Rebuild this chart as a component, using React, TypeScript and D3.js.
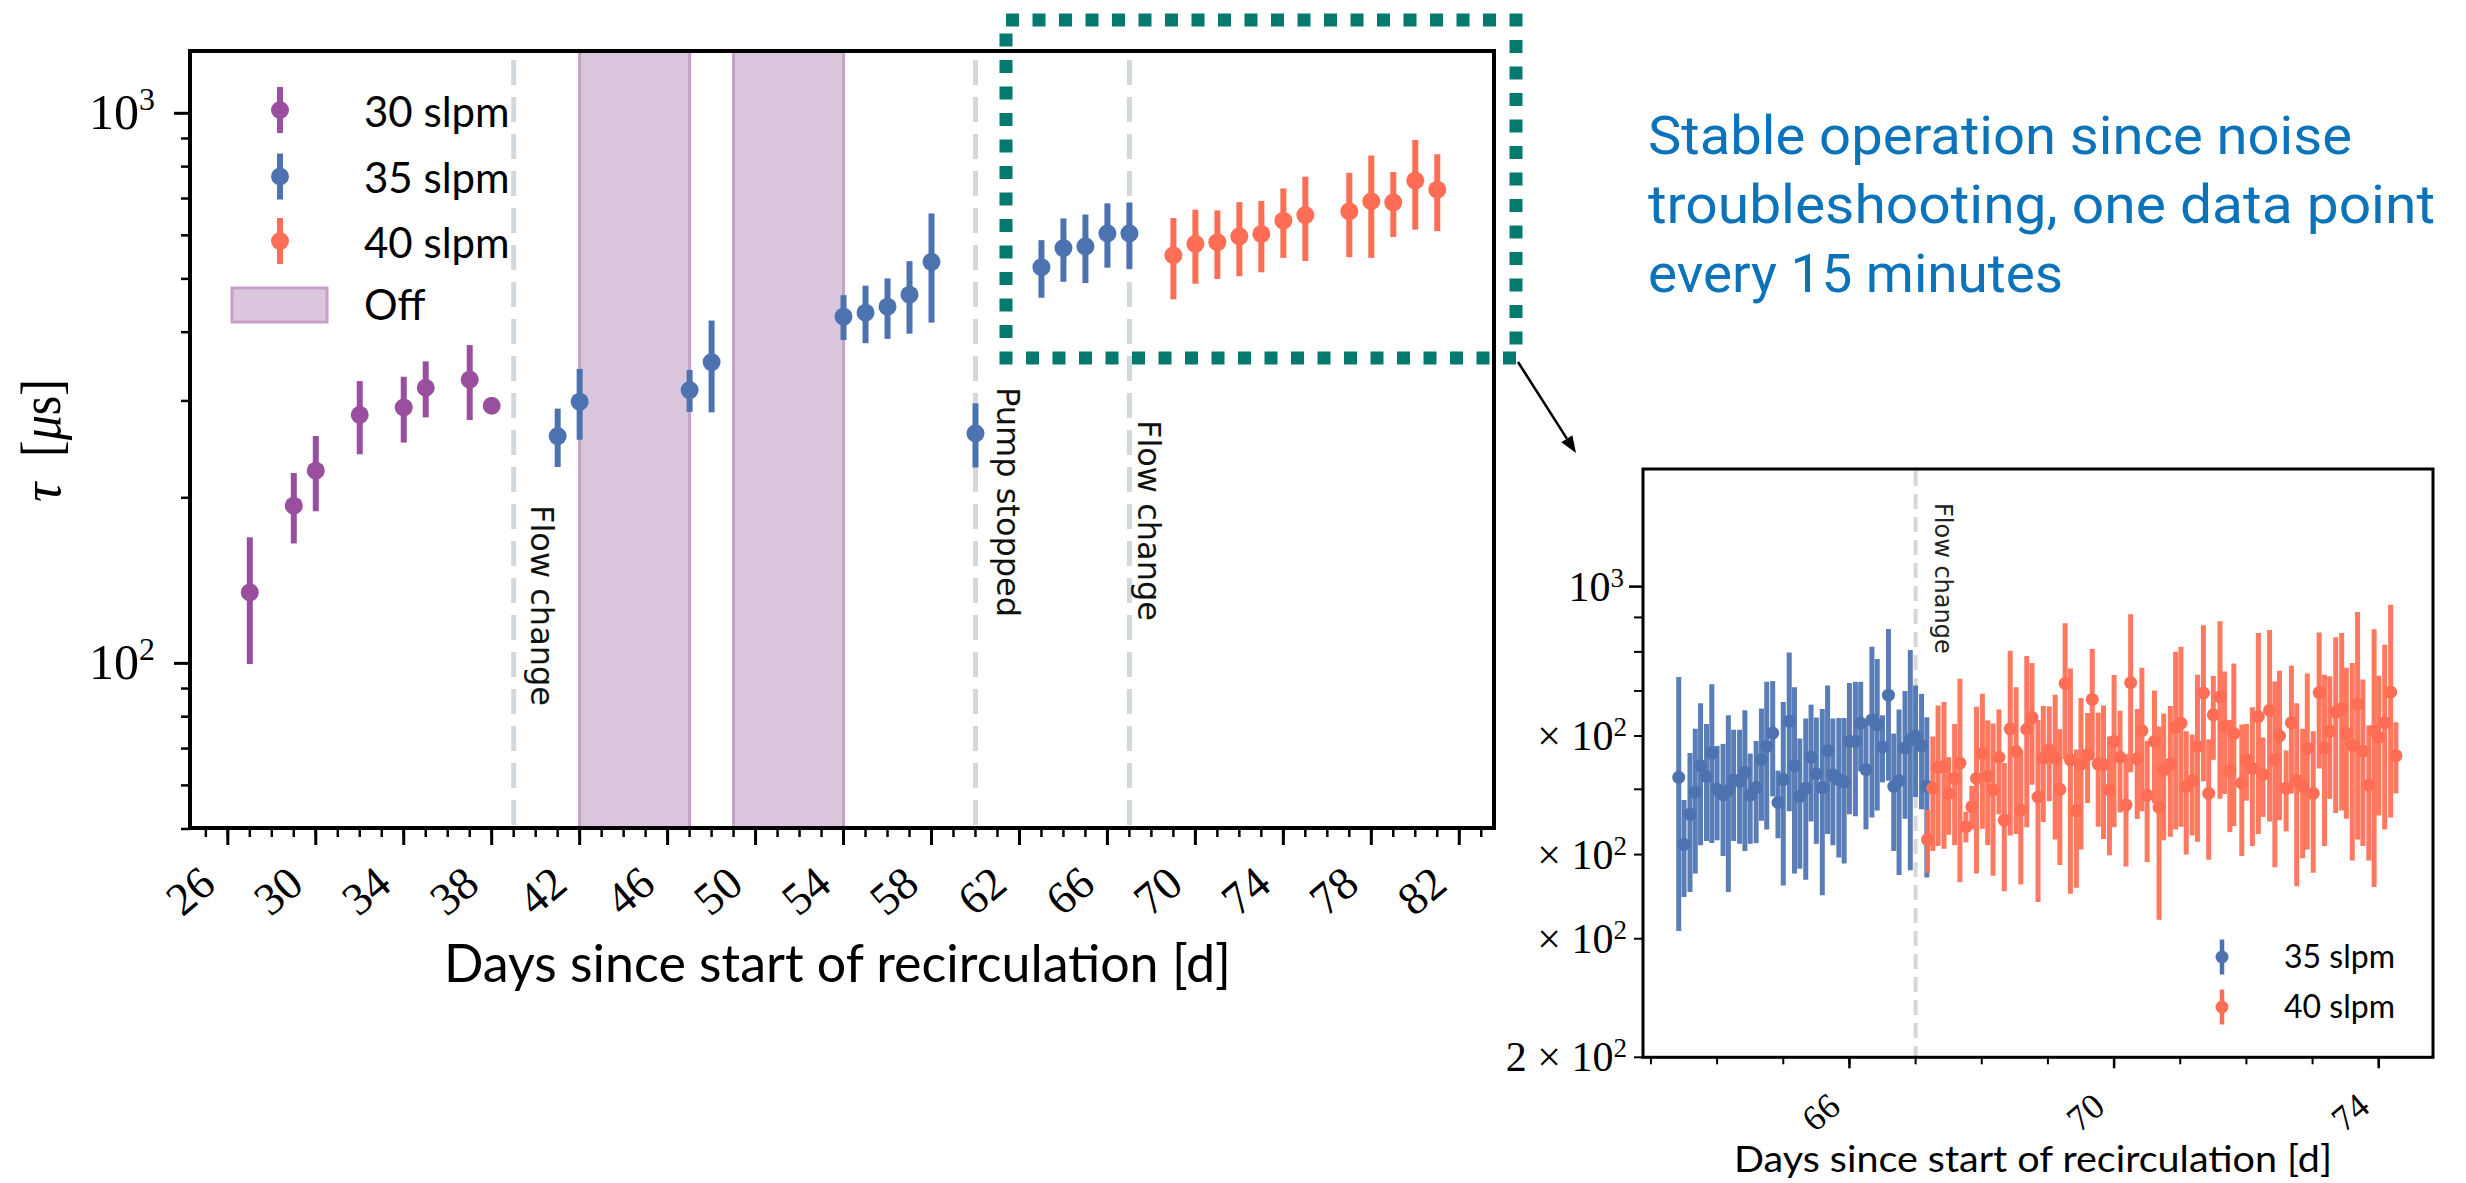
import React from "react";
import * as d3 from "d3";

// ---- main panel: tau vs days, one point per run ----
const days30 = [27, 29, 30, 32, 34, 35, 37, 38];
const tau30 = [134.6, 193.5, 224, 283, 292, 317, 328, 294];
const err30 = [34.9, 28.3, 35, 43, 40, 37, 51, 4];

const days35 = [41, 42, 47, 48, 54, 55, 56, 57, 58, 60, 63, 64, 65, 66, 67];
const tau35 = [259, 299, 314, 353, 427, 434, 445, 468, 537, 262, 525, 569, 573, 605, 605];
const err35 = [31.5, 44, 27.5, 67, 40, 52, 56, 70.5, 120.6, 35, 63, 75, 81.6, 81, 83.5];

const days40 = [69, 70, 71, 72, 73, 74, 75, 77, 78, 79, 80, 81];
const tau40 = [552, 579, 583, 597.5, 603.5, 638, 653, 663.5, 692, 689, 754.5, 726.5];
const err40 = [93, 89, 83, 92, 89.5, 92, 114, 116, 146, 93, 140, 116];

const offPeriods = [
  [42, 47],
  [49, 54],
];
const eventDays = [39, 60, 67];
const eventLabels = ["Flow change", "Pump stopped", "Flow change"];

const seriesLabels = ["30 slpm", "35 slpm", "40 slpm"];
const offLabel = "Off";

// ---- inset: every 2 h since noise troubleshooting ----
const insetDays35 = [
  63.42, 63.5, 63.59, 63.67, 63.75, 63.84, 63.92, 64.0, 64.09, 64.17, 64.25, 64.34,
  64.42, 64.5, 64.59, 64.67, 64.75, 64.84, 64.92, 65.0, 65.09, 65.17, 65.25, 65.34,
  65.42, 65.5, 65.59, 65.67, 65.75, 65.84, 65.92, 66.0, 66.09, 66.17, 66.25, 66.34,
  66.42, 66.5, 66.59, 66.67, 66.75, 66.84, 66.92, 67.0, 67.09, 67.17,
];
const insetTau35 = [
  521, 414, 459, 495, 542, 522, 566, 500, 491, 498, 516, 514, 530, 490, 503, 554, 579,
  606, 478, 517, 631, 542, 488, 502, 558, 527, 503, 571, 525, 517, 513, 589, 589, 627,
  535, 634, 623, 578, 690, 505, 515, 576, 592, 600, 580, 505,
];
const insetErr35 = [
  213, 68, 107, 120, 129, 103, 150, 80, 93, 146, 97, 99, 125, 75, 87, 105, 143, 118,
  55, 157, 167, 167, 107, 135, 110, 112, 155, 142, 112, 121, 125, 130, 133, 95, 99,
  180, 158, 66, 175, 100, 142, 124, 213, 113, 113, 135,
];

const insetDays40 = [
  67.18, 67.26, 67.34, 67.43, 67.5, 67.59, 67.67, 67.76, 67.85, 67.92, 68.01, 68.09,
  68.17, 68.26, 68.34, 68.43, 68.52, 68.59, 68.68, 68.76, 68.85, 68.93, 69.02, 69.11,
  69.18, 69.26, 69.34, 69.43, 69.5, 69.6, 69.67, 69.76, 69.84, 69.93, 70.0, 70.09,
  70.18, 70.25, 70.35, 70.42, 70.5, 70.61, 70.68, 70.75, 70.85, 70.93, 71.01, 71.09,
  71.18, 71.26, 71.35, 71.43, 71.5, 71.6, 71.67, 71.75, 71.81, 71.93, 72.0, 72.09,
  72.18, 72.25, 72.35, 72.43, 72.5, 72.6, 72.68, 72.76, 72.85, 72.92, 73.01, 73.1,
  73.18, 73.26, 73.35, 73.44, 73.51, 73.6, 73.68, 73.76, 73.85, 73.93, 74.0, 74.09,
  74.18, 74.26,
];
const insetTau40 = [
  421, 502, 539, 541, 493, 519, 547, 440, 471, 519, 565, 523, 499, 558, 450, 615, 569,
  466, 614, 639, 487, 556, 572, 556, 500, 718, 553, 465, 545, 563, 680, 545, 544, 499,
  589, 558, 474, 720, 555, 611, 490, 589, 470, 534, 545, 618, 627, 505, 515, 579, 695,
  493, 645, 686, 620, 533, 605, 511, 553, 537, 641, 526, 655, 553, 600, 502, 628, 515,
  505, 575, 493, 696, 576, 610, 651, 659, 605, 581, 669, 570, 507, 611, 597, 628, 697,
  561,
];
const insetErr40 = [
  45, 97, 127, 133, 65, 106, 183, 23, 35, 144, 128, 110, 127, 99, 97, 188, 140, 105,
  175, 131, 147, 109, 92, 135, 114, 164, 203, 108, 138, 86, 128, 105, 122, 100, 150,
  96, 90, 190, 103, 147, 100, 112, 150, 114, 120, 182, 187, 105, 88, 161, 181, 100, 92,
  202, 128, 101, 164, 113, 72, 125, 212, 71, 207, 170, 150, 69, 135, 156, 110, 168,
  117, 159, 164, 126, 190, 194, 153, 189, 248, 158, 115, 253, 140, 192, 243, 68,
];
const insetEventDay = 67;
const insetEventLabel = "Flow change";
const insetSeriesLabels = ["35 slpm", "40 slpm"];

// ---- ticks ----
const mainXTicks = [26, 30, 34, 38, 42, 46, 50, 54, 58, 62, 66, 70, 74, 78, 82];
const mainYMajor = [100, 1000];
const mainYMajorExp = ["2", "3"];
const mainYMinor = [50, 60, 70, 80, 90, 200, 300, 400, 500, 600, 700, 800, 900];
const insetXTicks = [66, 70, 74];
const insetYMinor = [200, 300, 400, 500, 600, 700, 800, 900];
const insetYMinorLabels: Record<number, string> = { 200: "2 × 10", 300: "× 10", 400: "× 10", 600: "× 10" };

const noteLines = [
  "Stable operation since noise",
  "troubleshooting, one data point",
  "every 15 minutes",
];

const xLabel = "Days since start of recirculation [d]";

const C30 = "#9a4f9e";
const C35 = "#4c72b0";
const C40 = "#ff6e54";
const OFF_FILL = "#dbc7dd";
const OFF_EDGE = "#c6a0c9";
const VLINE = "#d3d8dc";
const SERIF = "'Liberation Serif', 'DejaVu Serif', serif";
const SANS = "Lato, 'Open Sans', sans-serif";
const ROT = 40;

function ErrSeries({ days, tau, err, x, y, color, r, w, barOpacity = 1 }) {
  return (
    <g>
      {days.map((d, i) => (
        <line
          key={"b" + i}
          x1={x(d)}
          x2={x(d)}
          y1={y(Math.max(tau[i] - err[i], 1))}
          y2={y(tau[i] + err[i])}
          stroke={color}
          strokeWidth={w}
          opacity={barOpacity}
        />
      ))}
      {days.map((d, i) => (
        <circle key={"m" + i} cx={x(d)} cy={y(tau[i])} r={r} fill={color} />
      ))}
    </g>
  );
}

const App = () => {
  // main axes
  const L = 190, R = 1494, T = 51, B = 828;
  const x = d3.scaleLinear().domain([24.28, 83.58]).range([L, R]);
  const y = d3.scaleLog().domain([50.2, 1298]).range([B, T]);
  const minorX = d3.range(25, 84);

  // inset axes
  const iL = 1643, iR = 2433, iT = 469, iB = 1057.3;
  const ix = d3.scaleLinear().domain([62.88, 74.82]).range([iL, iR]);
  const iy = d3.scaleLog().domain([200, 1495]).range([iB, iT]);
  const iMinorX = d3.range(63, 75);

  const eventTextX = [39.8, 61.0, 67.4];
  const eventTextTau = [194, 318, 277];

  const legendY = [110, 176.5, 241];

  // arrow from the highlight box down to the inset
  const a0 = [1518, 362];
  const a1 = [1576, 453];
  const len = Math.hypot(a1[0] - a0[0], a1[1] - a0[1]);
  const ux = (a1[0] - a0[0]) / len, uy = (a1[1] - a0[1]) / len;
  const hb = [a1[0] - 17 * ux, a1[1] - 17 * uy];
  const head = [
    [a1[0], a1[1]],
    [hb[0] - 6.5 * uy, hb[1] + 6.5 * ux],
    [hb[0] + 6.5 * uy, hb[1] - 6.5 * ux],
  ];

  return (
    <svg
      width={2466}
      height={1183}
      style={{ position: "absolute", left: 0, top: 0, display: "block", background: "#fff" }}
    >
      {/* ---------- main panel ---------- */}
      {offPeriods.map((p, i) => (
        <rect
          key={"off" + i}
          x={x(p[0])}
          y={T}
          width={x(p[1]) - x(p[0])}
          height={B - T}
          fill={OFF_FILL}
          stroke={OFF_EDGE}
          strokeWidth={3}
        />
      ))}
      {eventDays.map((d, i) => (
        <line
          key={"ev" + i}
          x1={x(d)}
          x2={x(d)}
          y1={T + 2}
          y2={B}
          stroke={VLINE}
          strokeWidth={5}
          strokeDasharray="25 12"
          strokeDashoffset={30}
        />
      ))}
      {eventLabels.map((s, i) => (
        <text
          key={"evt" + i}
          transform={`translate(${x(eventTextX[i])},${y(eventTextTau[i])}) rotate(90)`}
          fontFamily="'DejaVu Sans', sans-serif"
          fontSize={32}
          fill="#111"
        >
          {s}
        </text>
      ))}

      <ErrSeries days={days30} tau={tau30} err={err30} x={x} y={y} color={C30} r={9} w={6} />
      <ErrSeries days={days35} tau={tau35} err={err35} x={x} y={y} color={C35} r={9} w={6} />
      <ErrSeries days={days40} tau={tau40} err={err40} x={x} y={y} color={C40} r={9} w={6} />

      {/* x ticks */}
      {minorX.map((t) => (
        <line key={"xm" + t} x1={x(t)} x2={x(t)} y1={B} y2={B + 9} stroke="#000" strokeWidth={2.5} />
      ))}
      {mainXTicks.map((t) => (
        <g key={"xt" + t}>
          <line x1={x(t)} x2={x(t)} y1={B} y2={B + 17} stroke="#000" strokeWidth={3} />
          <text
            x={x(t) - 10}
            y={888}
            transform={`rotate(-${ROT},${x(t) - 10},888)`}
            textAnchor="end"
            fontFamily={SERIF}
            fontSize={46}
          >
            {t}
          </text>
        </g>
      ))}
      {/* y ticks */}
      {mainYMinor.map((t) => (
        <line key={"ym" + t} x1={L - 9} x2={L} y1={y(t)} y2={y(t)} stroke="#000" strokeWidth={2.5} />
      ))}
      {mainYMajor.map((t, i) => (
        <g key={"yt" + t}>
          <line x1={L - 16} x2={L} y1={y(t)} y2={y(t)} stroke="#000" strokeWidth={3} />
          <text x={155} y={y(t) + 16} textAnchor="end" fontFamily={SERIF} fontSize={50}>
            10
            <tspan fontSize={32} dy={-19}>
              {mainYMajorExp[i]}
            </tspan>
          </text>
        </g>
      ))}
      <rect x={L} y={T} width={R - L} height={B - T} fill="none" stroke="#000" strokeWidth={4} />

      {/* y label: tau [mu s] */}
      <text transform="translate(60,502) rotate(-90)" fontFamily={SERIF} fontSize={54} fontStyle="italic">
        τ
      </text>
      <text
        transform="translate(60,457) rotate(-90)"
        fontFamily={SERIF}
        fontSize={56}
        textLength={78}
        lengthAdjust="spacingAndGlyphs"
      >
        [<tspan fontStyle="italic">μ</tspan>s]
      </text>
      <text x={444} y={982} fontFamily={SANS} fontSize={52} textLength={787} lengthAdjust="spacingAndGlyphs">
        {xLabel}
      </text>

      {/* legend */}
      {[C30, C35, C40].map((c, i) => (
        <g key={"lg" + i}>
          <line x1={280} x2={280} y1={legendY[i] - 23} y2={legendY[i] + 23} stroke={c} strokeWidth={6} />
          <circle cx={280} cy={legendY[i]} r={9} fill={c} />
          <text x={364} y={legendY[i] + 16.5} fontFamily={SANS} fontSize={42}>
            {seriesLabels[i]}
          </text>
        </g>
      ))}
      <rect x={232} y={288} width={95} height={34} fill={OFF_FILL} stroke={OFF_EDGE} strokeWidth={3} />
      <text x={364} y={320} fontFamily={SANS} fontSize={42}>
        {offLabel}
      </text>

      {/* highlight box + note */}
      <rect
        x={1006}
        y={20}
        width={510}
        height={338}
        fill="none"
        stroke="#047a6f"
        strokeWidth={13}
        strokeDasharray="13 13.5"
      />
      {noteLines.map((s, i) => (
        <text
          key={"n" + i}
          x={1648}
          y={154 + i * 69}
          fontFamily="Roboto, 'Open Sans', sans-serif"
          fontSize={54}
          fill="#0b73ba"
          textLength={[704, 787, 415][i]}
          lengthAdjust="spacingAndGlyphs"
        >
          {s}
        </text>
      ))}
      <line x1={a0[0]} y1={a0[1]} x2={hb[0]} y2={hb[1]} stroke="#000" strokeWidth={2.5} />
      <polygon points={head.map((p) => p.join(",")).join(" ")} fill="#000" />

      {/* ---------- inset ---------- */}
      <line
        x1={ix(insetEventDay)}
        x2={ix(insetEventDay)}
        y1={iT + 2}
        y2={iB}
        stroke={VLINE}
        strokeWidth={4}
        strokeDasharray="15 8"
      />
      <text
        transform={`translate(1935,503) rotate(90)`}
        fontFamily="'DejaVu Sans', sans-serif"
        fontSize={24}
        fill="#222"
      >
        {insetEventLabel}
      </text>
      <ErrSeries
        days={insetDays35}
        tau={insetTau35}
        err={insetErr35}
        x={ix}
        y={iy}
        color={C35}
        r={6.5}
        w={5}
        barOpacity={0.92}
      />
      <ErrSeries
        days={insetDays40}
        tau={insetTau40}
        err={insetErr40}
        x={ix}
        y={iy}
        color={C40}
        r={6.5}
        w={5}
        barOpacity={0.92}
      />

      {iMinorX.map((t) => (
        <line key={"ixm" + t} x1={ix(t)} x2={ix(t)} y1={iB} y2={iB + 7} stroke="#000" strokeWidth={2} />
      ))}
      {insetXTicks.map((t) => (
        <g key={"ixt" + t}>
          <line x1={ix(t)} x2={ix(t)} y1={iB} y2={iB + 11} stroke="#000" strokeWidth={2.5} />
          <text
            x={ix(t) - 7}
            y={1110}
            transform={`rotate(-${ROT},${ix(t) - 7},1110)`}
            textAnchor="end"
            fontFamily={SERIF}
            fontSize={36}
          >
            {t}
          </text>
        </g>
      ))}
      {insetYMinor.map((t) => (
        <g key={"iym" + t}>
          <line x1={iL - 9} x2={iL} y1={iy(t)} y2={iy(t)} stroke="#000" strokeWidth={2} />
          {insetYMinorLabels[t] && (
            <text x={1627} y={iy(t) + 14} textAnchor="end" fontFamily={SERIF} fontSize={42}>
              {insetYMinorLabels[t]}
              <tspan fontSize={27} dy={-14}>
                2
              </tspan>
            </text>
          )}
        </g>
      ))}
      <line x1={iL - 14} x2={iL} y1={iy(1000)} y2={iy(1000)} stroke="#000" strokeWidth={2.5} />
      <text x={1624} y={iy(1000) + 14} textAnchor="end" fontFamily={SERIF} fontSize={42}>
        10
        <tspan fontSize={27} dy={-14}>
          3
        </tspan>
      </text>
      <rect x={iL} y={iT} width={iR - iL} height={iB - iT} fill="none" stroke="#000" strokeWidth={3} />

      <text x={1734} y={1172} fontFamily={SANS} fontSize={36} textLength={598} lengthAdjust="spacingAndGlyphs">
        {xLabel}
      </text>

      {[C35, C40].map((c, i) => (
        <g key={"ilg" + i}>
          <line x1={2222} x2={2222} y1={957 + i * 50 - 17.5} y2={957 + i * 50 + 17.5} stroke={c} strokeWidth={4.5} />
          <circle cx={2222} cy={957 + i * 50} r={6.5} fill={c} />
          <text x={2284} y={968 + i * 50} fontFamily={SANS} fontSize={32}>
            {insetSeriesLabels[i]}
          </text>
        </g>
      ))}
    </svg>
  );
};

export default App;
